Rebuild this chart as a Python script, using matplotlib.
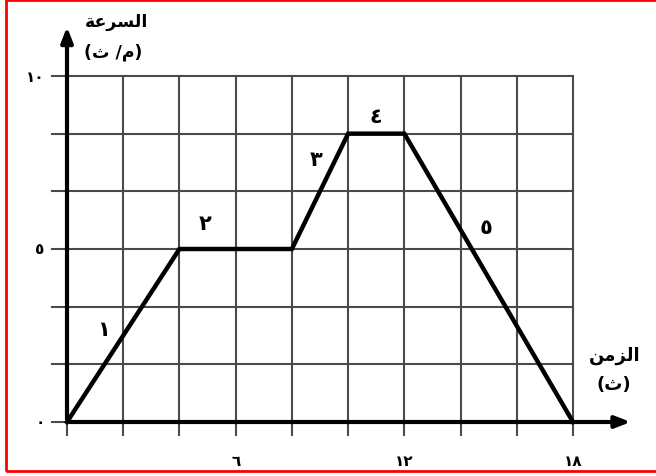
import matplotlib
matplotlib.use('Agg')
import matplotlib.pyplot as plt
from matplotlib.patches import Rectangle

# time (s) and speed (m/s) at the corners of the graph
t = [0, 4, 8, 10, 12, 18]
v = [0, 5, 5, 25/3, 25/3, 0]

# segment numbers and where they sit
seg_labels = ['١', '٢', '٣', '٤', '٥']
seg_x = [1.3, 4.9, 8.85, 11.0, 14.9]
seg_y = [2.7, 5.75, 7.6, 8.85, 5.65]

xticks = [6, 12, 18]
xtick_labels = ['٦', '١٢', '١٨']
yticks = [0, 5, 10]
ytick_labels = ['٠', '٥', '١٠']

# arabic labels written in shaped (presentation) forms, visual left-to-right order
ylab1 = '\uFE94\uFECB\uFEAE\uFEB4\uFEDF\uFE8D'   # السرعة
ylab2 = '(\uFE99 /\uFEE1)'                      # (م/ ث)
xlab1 = '\uFEE6\uFEE3\uFEB0\uFEDF\uFE8D'         # الزمن
xlab2 = '(\uFE99)'                              # (ث)

fig = plt.figure(figsize=(6.56, 4.77), dpi=100)
ax = fig.add_axes([67/656, 1 - 423/477, 506/656, 346/477])
ax.set_xlim(0, 18)
ax.set_ylim(0, 10)
ax.axis('off')

grid_col = '#4a4a4a'
for gx in range(0, 19, 2):
    ax.plot([gx, gx], [-0.38, 10], color=grid_col, lw=1.5, clip_on=False, zorder=1)
for k in range(7):
    gy = k * 10 / 6
    ax.plot([-0.53, 18], [gy, gy], color=grid_col, lw=1.5, clip_on=False, zorder=1)

# axes arrows
ax.annotate('', xy=(20.15, 0), xytext=(0, 0), annotation_clip=False,
            arrowprops=dict(arrowstyle='-|>,head_length=0.9,head_width=0.35', color='black', lw=3), zorder=3)
ax.annotate('', xy=(0, 11.5), xytext=(0, 0), annotation_clip=False,
            arrowprops=dict(arrowstyle='-|>,head_length=0.9,head_width=0.35', color='black', lw=3), zorder=3)

ax.plot(t, v, color='black', lw=3.2, solid_joinstyle='miter', clip_on=False, zorder=4)

fnt = ['DejaVu Sans']
for s, x, y in zip(seg_labels, seg_x, seg_y):
    ax.text(x, y, s, fontsize=15, fontweight='bold', ha='center', va='center', family=fnt)

for x, s in zip(xticks, xtick_labels):
    ax.text(x, -1.1, s, fontsize=11, fontweight='bold', ha='center', va='center', family=fnt)
for y, s in zip(yticks, ytick_labels):
    ax.text(-0.8, y, s, fontsize=11, fontweight='bold', ha='right', va='center', family=fnt)

ax.text(1.75, 11.6, ylab1, fontsize=12.5, fontweight='bold', ha='center', va='center', family=fnt)
ax.text(1.65, 10.7, ylab2, fontsize=12.5, fontweight='bold', ha='center', va='center', family=fnt)
ax.text(19.5, 1.95, xlab1, fontsize=13, fontweight='bold', ha='center', va='center', family=fnt)
ax.text(19.45, 1.1, xlab2, fontsize=13, fontweight='bold', ha='center', va='center', family=fnt)

# red frame round the picture
fig.patches.append(Rectangle((6/656, 1 - 472/477), 1.2, 471/477, transform=fig.transFigure,
                             fill=False, edgecolor='red', lw=2))

fig.savefig('out.png', dpi=100)
